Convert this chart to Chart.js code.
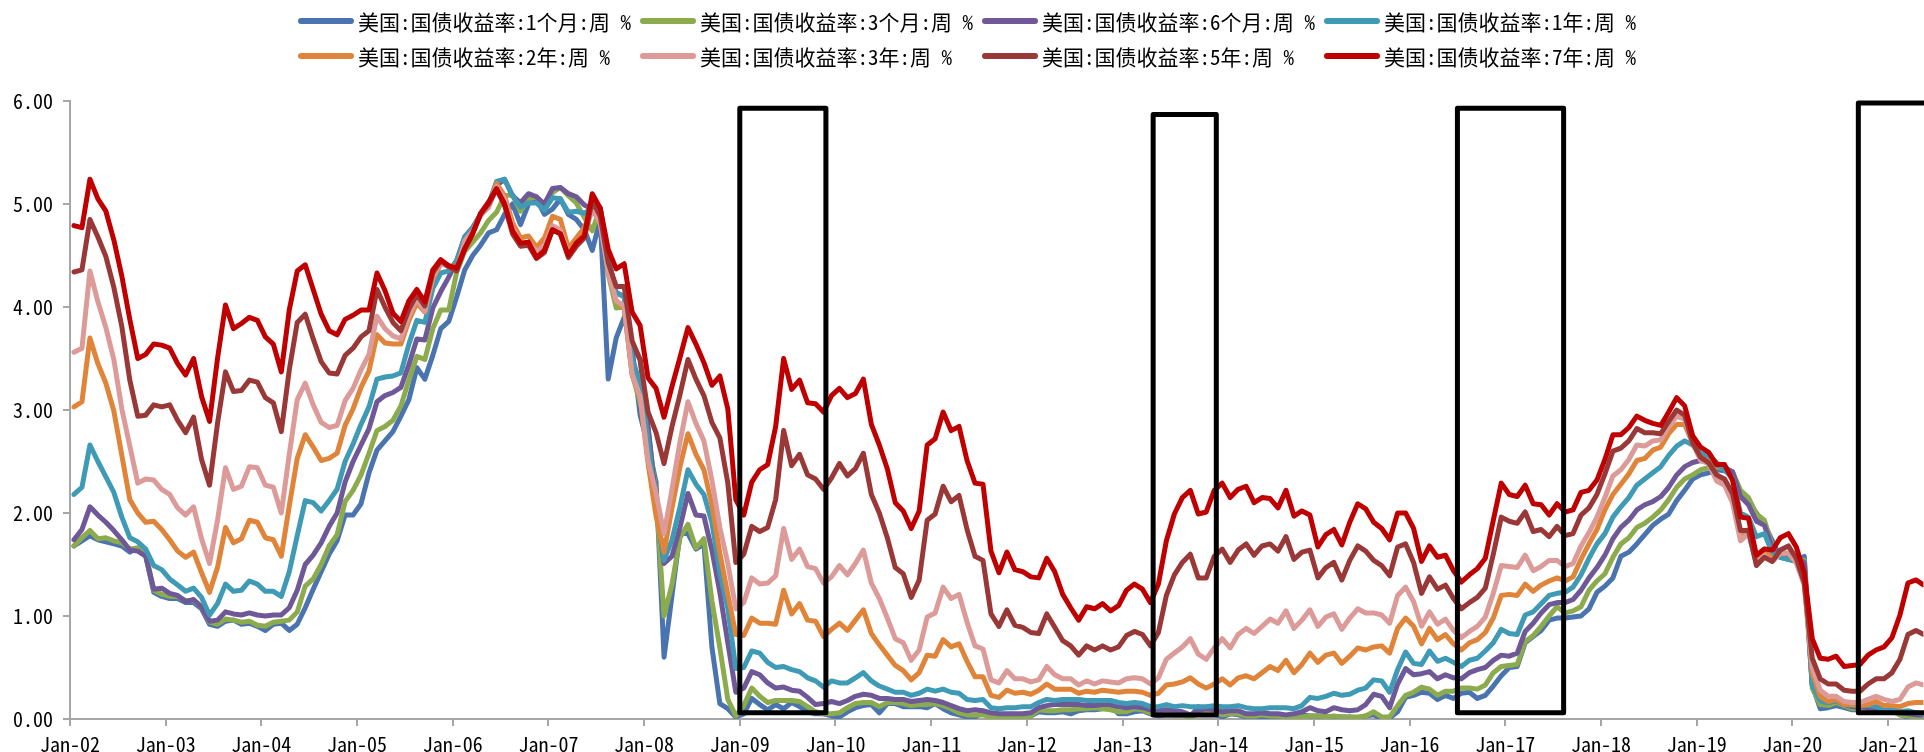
<!DOCTYPE html>
<html>
<head>
<meta charset="utf-8">
<script src="https://cdn.jsdelivr.net/npm/chart.js@4.4.1/dist/chart.umd.min.js"></script>
<style>
  html, body { margin: 0; padding: 0; background: #fff; overflow: hidden; }
  #wrap { position: relative; width: 1924px; height: 752px; }
  #chart { position: absolute; left: 0; top: 0; }
  #legend { position: absolute; left: 0; top: 0; width: 1924px; height: 80px; }
  .item { position: absolute; height: 30px; display: flex; align-items: center; white-space: nowrap;
          font-family: 'Noto Sans Mono CJK SC', 'Noto Sans CJK SC', monospace; font-size: 21px; color: #000; }
  .swatch { width: 56px; height: 6px; border-radius: 3px; margin-right: 4px; }
</style>
</head>
<body>
<div id="wrap">
  <canvas id="chart" width="1924" height="752"></canvas>
  <div id="legend"></div>
</div>
<script>
// US Treasury constant-maturity yields (%), monthly, Jan 2002 – May 2021
const startYear = 2002;
const monthCount = 233;

const seriesNames = [
  '美国:国债收益率:1个月:周 %', '美国:国债收益率:3个月:周 %', '美国:国债收益率:6个月:周 %', '美国:国债收益率:1年:周 %',
  '美国:国债收益率:2年:周 %', '美国:国债收益率:3年:周 %', '美国:国债收益率:5年:周 %', '美国:国债收益率:7年:周 %'
];
const seriesColors = ['#4a74b0', '#8bab4c', '#6f5898', '#3f9ab6', '#e0843a', '#dc9a98', '#9a3838', '#c00000'];

const y1m = [
  1.68,1.73,1.78,1.74,1.72,1.70,1.68,1.62,1.66,1.58,1.23,1.19,
  1.17,1.17,1.13,1.13,1.07,0.92,0.90,0.95,0.96,0.92,0.93,0.90,
  0.86,0.92,0.93,0.86,0.92,1.08,1.26,1.43,1.60,1.73,1.98,1.98,
  2.09,2.39,2.61,2.70,2.79,2.94,3.10,3.41,3.30,3.53,3.79,3.86,
  4.10,4.36,4.50,4.60,4.72,4.75,4.90,5.00,4.80,5.00,5.05,4.90,
  4.95,5.05,4.90,4.85,4.75,4.55,4.85,3.30,3.70,3.90,3.60,2.95,
  2.65,2.30,0.60,1.20,1.80,1.80,1.65,1.70,0.70,0.15,0.10,0.02,
  0.05,0.20,0.14,0.09,0.14,0.10,0.16,0.12,0.07,0.05,0.05,0.03,
  0.02,0.07,0.11,0.13,0.14,0.06,0.15,0.15,0.12,0.12,0.12,0.11,
  0.15,0.10,0.06,0.04,0.02,0.02,0.06,0.03,0.01,0.02,0.01,0.01,
  0.03,0.07,0.06,0.06,0.07,0.05,0.08,0.09,0.09,0.10,0.13,0.05,
  0.05,0.07,0.08,0.05,0.03,0.04,0.04,0.04,0.02,0.12,0.07,0.05,
  0.02,0.05,0.04,0.02,0.03,0.02,0.02,0.03,0.01,0.02,0.04,0.03,
  0.03,0.02,0.02,0.02,0.02,0.01,0.03,0.04,0.00,0.01,0.07,0.21,
  0.23,0.26,0.25,0.19,0.23,0.20,0.25,0.26,0.20,0.23,0.32,0.42,
  0.50,0.51,0.74,0.80,0.86,0.96,0.98,0.98,0.99,1.00,1.07,1.23,
  1.29,1.37,1.58,1.62,1.70,1.79,1.88,1.94,1.99,2.12,2.22,2.33,
  2.37,2.39,2.42,2.41,2.36,2.17,2.10,2.00,1.89,1.73,1.57,1.55,
  1.53,1.58,0.33,0.10,0.11,0.13,0.11,0.09,0.09,0.09,0.08,0.08,
  0.08,0.04,0.02,0.02,0.01
];
const y3m = [
  1.68,1.76,1.83,1.75,1.76,1.73,1.71,1.65,1.66,1.61,1.25,1.21,
  1.19,1.19,1.15,1.15,1.09,0.94,0.92,0.97,0.96,0.94,0.95,0.91,
  0.90,0.94,0.95,0.96,1.04,1.29,1.36,1.50,1.68,1.79,2.11,2.22,
  2.37,2.58,2.80,2.84,2.90,3.04,3.29,3.52,3.49,3.79,3.97,3.97,
  4.34,4.54,4.63,4.72,4.84,4.92,5.08,5.09,4.93,5.05,5.07,4.97,
  5.11,5.16,5.08,5.01,4.87,4.74,4.96,4.32,3.99,4.00,3.35,3.07,
  2.82,2.17,1.00,1.31,1.76,1.89,1.66,1.75,1.15,0.69,0.19,0.03,
  0.13,0.30,0.22,0.16,0.18,0.18,0.18,0.17,0.12,0.07,0.05,0.05,
  0.06,0.11,0.15,0.16,0.16,0.12,0.16,0.16,0.15,0.13,0.14,0.14,
  0.15,0.13,0.10,0.06,0.04,0.04,0.04,0.02,0.01,0.02,0.01,0.01,
  0.03,0.09,0.08,0.08,0.09,0.09,0.10,0.10,0.11,0.10,0.09,0.07,
  0.07,0.10,0.09,0.06,0.04,0.05,0.04,0.04,0.02,0.05,0.07,0.07,
  0.04,0.05,0.05,0.03,0.03,0.04,0.03,0.03,0.02,0.02,0.02,0.03,
  0.03,0.02,0.03,0.02,0.02,0.02,0.03,0.07,0.02,0.02,0.13,0.23,
  0.26,0.31,0.29,0.23,0.27,0.27,0.30,0.30,0.29,0.33,0.45,0.51,
  0.52,0.53,0.75,0.81,0.90,1.00,1.09,1.03,1.05,1.09,1.25,1.34,
  1.41,1.57,1.70,1.76,1.86,1.90,1.96,2.03,2.13,2.25,2.33,2.37,
  2.42,2.44,2.45,2.43,2.40,2.22,2.15,1.99,1.93,1.68,1.57,1.57,
  1.55,1.54,0.30,0.14,0.13,0.16,0.13,0.10,0.11,0.10,0.09,0.09,
  0.08,0.04,0.03,0.02,0.02
];
const y6m = [
  1.74,1.84,2.06,1.98,1.91,1.83,1.74,1.64,1.63,1.58,1.26,1.27,
  1.22,1.20,1.14,1.16,1.09,0.95,0.96,1.04,1.02,1.01,1.03,1.01,
  1.00,1.01,1.01,1.08,1.25,1.50,1.59,1.71,1.87,2.00,2.30,2.50,
  2.66,2.82,3.08,3.14,3.17,3.22,3.44,3.69,3.68,3.99,4.15,4.29,
  4.45,4.68,4.77,4.90,5.00,5.18,5.24,5.08,5.01,5.10,5.07,5.00,
  5.15,5.16,5.10,5.07,4.99,4.95,4.96,4.47,4.14,4.10,3.63,3.49,
  2.84,2.10,1.51,1.58,1.86,2.19,1.98,1.97,1.64,1.23,0.74,0.26,
  0.30,0.46,0.43,0.35,0.30,0.31,0.28,0.27,0.21,0.14,0.15,0.17,
  0.15,0.18,0.22,0.24,0.23,0.20,0.20,0.19,0.19,0.17,0.18,0.19,
  0.18,0.16,0.13,0.10,0.08,0.09,0.08,0.06,0.05,0.05,0.05,0.05,
  0.06,0.11,0.13,0.14,0.14,0.14,0.14,0.13,0.13,0.14,0.14,0.12,
  0.11,0.12,0.11,0.09,0.08,0.09,0.08,0.07,0.04,0.08,0.10,0.09,
  0.07,0.08,0.08,0.05,0.05,0.06,0.05,0.05,0.04,0.05,0.07,0.11,
  0.08,0.07,0.11,0.09,0.08,0.09,0.14,0.24,0.22,0.11,0.34,0.49,
  0.43,0.44,0.46,0.39,0.43,0.40,0.39,0.45,0.48,0.50,0.57,0.62,
  0.61,0.64,0.85,0.93,1.03,1.11,1.13,1.13,1.16,1.25,1.37,1.47,
  1.59,1.75,1.86,1.93,2.03,2.08,2.11,2.16,2.25,2.37,2.45,2.49,
  2.51,2.50,2.47,2.44,2.40,2.16,2.08,1.92,1.88,1.66,1.60,1.58,
  1.56,1.52,0.34,0.18,0.16,0.18,0.14,0.12,0.12,0.11,0.10,0.09,
  0.09,0.06,0.05,0.04,0.04
];
const y1y = [
  2.18,2.25,2.66,2.50,2.35,2.20,1.96,1.76,1.72,1.65,1.49,1.45,
  1.36,1.30,1.24,1.27,1.18,1.01,1.12,1.31,1.24,1.25,1.34,1.31,
  1.24,1.24,1.19,1.43,1.78,2.12,2.10,2.02,2.12,2.23,2.50,2.67,
  2.86,3.03,3.30,3.32,3.33,3.36,3.64,3.87,3.85,4.18,4.33,4.35,
  4.45,4.68,4.77,4.90,5.00,5.22,5.24,5.08,4.97,5.01,5.01,4.94,
  5.06,5.05,4.92,4.93,4.91,4.96,4.96,4.47,4.14,4.10,3.50,3.26,
  2.71,2.05,1.54,1.74,2.06,2.42,2.28,2.18,1.91,1.42,1.07,0.49,
  0.50,0.66,0.64,0.55,0.50,0.51,0.48,0.46,0.40,0.37,0.31,0.37,
  0.35,0.35,0.40,0.45,0.37,0.32,0.29,0.26,0.26,0.23,0.25,0.29,
  0.27,0.29,0.26,0.25,0.19,0.18,0.19,0.11,0.10,0.11,0.11,0.12,
  0.12,0.16,0.19,0.18,0.19,0.19,0.19,0.18,0.18,0.18,0.18,0.16,
  0.15,0.16,0.15,0.12,0.12,0.14,0.12,0.13,0.12,0.12,0.12,0.13,
  0.12,0.12,0.13,0.11,0.10,0.10,0.11,0.11,0.11,0.10,0.13,0.21,
  0.20,0.22,0.25,0.23,0.24,0.28,0.30,0.38,0.37,0.26,0.48,0.65,
  0.54,0.53,0.66,0.56,0.59,0.55,0.51,0.57,0.59,0.66,0.74,0.87,
  0.83,0.82,1.01,1.04,1.12,1.20,1.22,1.23,1.28,1.40,1.56,1.70,
  1.80,1.96,2.06,2.15,2.27,2.33,2.39,2.45,2.56,2.65,2.70,2.66,
  2.58,2.55,2.49,2.42,2.34,2.00,1.96,1.77,1.80,1.61,1.57,1.55,
  1.53,1.41,0.33,0.18,0.16,0.18,0.14,0.13,0.13,0.13,0.12,0.10,
  0.10,0.07,0.08,0.06,0.05
];
const y2y = [
  3.03,3.08,3.70,3.45,3.26,2.99,2.56,2.13,2.00,1.91,1.92,1.84,
  1.74,1.63,1.57,1.62,1.42,1.23,1.47,1.86,1.71,1.75,1.93,1.91,
  1.76,1.74,1.58,2.07,2.53,2.76,2.64,2.51,2.53,2.58,2.85,3.01,
  3.22,3.38,3.73,3.65,3.64,3.64,3.87,4.04,3.95,4.27,4.42,4.40,
  4.39,4.61,4.72,4.90,4.97,5.20,5.08,4.82,4.67,4.69,4.58,4.67,
  4.88,4.85,4.57,4.67,4.77,4.96,4.82,4.34,4.06,3.99,3.34,3.12,
  2.48,1.97,1.62,2.05,2.45,2.77,2.57,2.42,2.08,1.61,1.21,0.82,
  0.81,0.98,0.93,0.93,0.92,1.25,1.02,1.12,0.96,0.95,0.80,0.87,
  0.93,0.86,0.96,1.06,0.83,0.72,0.62,0.52,0.47,0.38,0.45,0.62,
  0.61,0.77,0.70,0.73,0.56,0.41,0.41,0.23,0.21,0.28,0.25,0.26,
  0.24,0.28,0.34,0.29,0.29,0.29,0.25,0.27,0.26,0.28,0.27,0.26,
  0.27,0.27,0.26,0.23,0.25,0.33,0.34,0.36,0.40,0.34,0.30,0.34,
  0.39,0.33,0.40,0.42,0.39,0.45,0.51,0.47,0.57,0.45,0.53,0.64,
  0.55,0.62,0.64,0.54,0.61,0.69,0.67,0.70,0.71,0.64,0.88,0.98,
  0.90,0.73,0.88,0.77,0.82,0.73,0.67,0.74,0.77,0.84,0.98,1.20,
  1.21,1.20,1.31,1.24,1.30,1.34,1.37,1.34,1.38,1.55,1.70,1.84,
  2.03,2.18,2.28,2.38,2.51,2.53,2.61,2.64,2.77,2.86,2.86,2.68,
  2.54,2.50,2.37,2.30,2.16,1.78,1.84,1.57,1.65,1.55,1.61,1.61,
  1.52,1.33,0.45,0.22,0.17,0.19,0.14,0.14,0.13,0.14,0.17,0.13,
  0.13,0.12,0.15,0.16,0.16
];
const y3y = [
  3.56,3.60,4.35,4.05,3.80,3.49,3.01,2.65,2.29,2.33,2.32,2.23,
  2.18,2.05,1.98,2.06,1.75,1.51,1.93,2.44,2.23,2.26,2.45,2.44,
  2.27,2.25,2.00,2.57,3.10,3.26,3.05,2.88,2.83,2.85,3.09,3.21,
  3.39,3.54,3.91,3.79,3.72,3.69,3.91,4.08,3.96,4.29,4.43,4.39,
  4.35,4.64,4.74,4.89,4.97,5.17,5.05,4.77,4.62,4.63,4.54,4.59,
  4.79,4.75,4.51,4.60,4.69,4.95,4.81,4.34,4.06,4.01,3.35,3.13,
  2.51,2.19,1.80,2.23,2.69,3.08,2.87,2.70,2.32,1.86,1.51,1.07,
  1.13,1.37,1.31,1.32,1.39,1.85,1.55,1.65,1.48,1.46,1.32,1.38,
  1.49,1.40,1.51,1.64,1.32,1.17,0.98,0.78,0.74,0.57,0.67,0.99,
  1.03,1.28,1.17,1.21,0.94,0.71,0.68,0.38,0.35,0.47,0.39,0.39,
  0.36,0.38,0.51,0.43,0.39,0.39,0.33,0.37,0.34,0.37,0.36,0.35,
  0.39,0.40,0.39,0.34,0.40,0.58,0.64,0.70,0.78,0.63,0.58,0.69,
  0.78,0.69,0.82,0.88,0.83,0.90,0.97,0.93,1.05,0.88,0.96,1.06,
  0.90,0.99,1.02,0.87,0.98,1.07,1.03,1.03,1.01,0.93,1.20,1.28,
  1.14,0.90,1.04,0.92,0.97,0.86,0.79,0.85,0.90,0.99,1.22,1.49,
  1.48,1.47,1.59,1.44,1.48,1.54,1.54,1.48,1.51,1.68,1.81,1.96,
  2.15,2.36,2.42,2.52,2.66,2.65,2.70,2.71,2.84,2.94,2.91,2.68,
  2.51,2.48,2.31,2.27,2.10,1.73,1.80,1.51,1.59,1.53,1.61,1.61,
  1.52,1.30,0.50,0.28,0.22,0.22,0.17,0.16,0.16,0.19,0.22,0.19,
  0.17,0.19,0.31,0.35,0.33
];
const y5y = [
  4.34,4.36,4.85,4.68,4.49,4.19,3.81,3.29,2.94,2.95,3.05,3.03,
  3.05,2.90,2.78,2.93,2.52,2.27,2.87,3.37,3.18,3.19,3.29,3.27,
  3.12,3.07,2.79,3.39,3.85,3.93,3.69,3.47,3.36,3.35,3.53,3.60,
  3.71,3.77,4.17,4.00,3.85,3.77,3.98,4.12,4.01,4.33,4.45,4.39,
  4.35,4.57,4.72,4.90,5.00,5.14,4.99,4.71,4.59,4.60,4.47,4.53,
  4.75,4.71,4.48,4.59,4.67,5.03,4.88,4.43,4.20,4.20,3.67,3.49,
  2.98,2.78,2.48,2.84,3.15,3.49,3.30,3.14,2.88,2.73,2.29,1.52,
  1.60,1.87,1.82,1.86,2.13,2.80,2.46,2.57,2.37,2.33,2.23,2.34,
  2.48,2.36,2.43,2.58,2.18,2.00,1.76,1.47,1.41,1.18,1.35,1.93,
  1.99,2.26,2.11,2.17,1.84,1.58,1.54,1.02,0.90,1.06,0.91,0.89,
  0.84,0.83,1.02,0.89,0.76,0.71,0.62,0.71,0.67,0.71,0.67,0.70,
  0.81,0.85,0.82,0.71,0.84,1.20,1.40,1.52,1.60,1.37,1.37,1.58,
  1.65,1.52,1.64,1.70,1.59,1.68,1.70,1.63,1.77,1.55,1.62,1.64,
  1.37,1.47,1.52,1.35,1.54,1.68,1.63,1.54,1.49,1.39,1.67,1.70,
  1.52,1.22,1.38,1.26,1.30,1.17,1.07,1.13,1.18,1.27,1.60,1.96,
  1.92,1.90,2.01,1.82,1.84,1.77,1.87,1.78,1.80,1.98,2.05,2.18,
  2.38,2.60,2.63,2.70,2.82,2.78,2.78,2.77,2.89,3.00,2.95,2.68,
  2.54,2.49,2.37,2.33,2.19,1.83,1.83,1.49,1.57,1.53,1.64,1.68,
  1.56,1.32,0.59,0.39,0.34,0.34,0.28,0.27,0.27,0.34,0.39,0.39,
  0.45,0.58,0.82,0.86,0.82
];
const y7y = [
  4.79,4.77,5.24,5.05,4.93,4.65,4.30,3.88,3.50,3.54,3.64,3.63,
  3.60,3.45,3.34,3.50,3.13,2.89,3.50,4.02,3.79,3.84,3.90,3.87,
  3.71,3.64,3.37,3.97,4.35,4.41,4.17,3.93,3.77,3.73,3.88,3.92,
  3.97,3.97,4.33,4.16,3.94,3.86,4.06,4.17,4.05,4.36,4.46,4.40,
  4.38,4.56,4.71,4.91,5.02,5.15,5.00,4.74,4.62,4.63,4.48,4.55,
  4.75,4.71,4.50,4.62,4.69,5.10,4.96,4.56,4.37,4.42,3.95,3.82,
  3.31,3.21,2.93,3.23,3.51,3.80,3.64,3.46,3.24,3.33,3.01,2.13,
  1.98,2.30,2.42,2.47,2.84,3.50,3.20,3.29,3.07,3.06,2.98,3.14,
  3.21,3.12,3.16,3.30,2.86,2.66,2.43,2.10,2.02,1.85,2.02,2.66,
  2.72,2.98,2.80,2.84,2.51,2.29,2.28,1.63,1.42,1.62,1.45,1.43,
  1.38,1.37,1.56,1.43,1.21,1.08,0.96,1.09,1.07,1.12,1.05,1.10,
  1.25,1.31,1.26,1.13,1.31,1.73,1.99,2.15,2.22,1.99,2.01,2.22,
  2.29,2.15,2.23,2.26,2.10,2.15,2.14,2.05,2.22,1.97,2.02,1.98,
  1.67,1.79,1.84,1.69,1.91,2.09,2.04,1.91,1.85,1.74,2.00,2.00,
  1.85,1.53,1.68,1.57,1.59,1.44,1.33,1.40,1.46,1.56,1.93,2.29,
  2.18,2.16,2.27,2.09,2.08,1.98,2.09,2.01,2.03,2.20,2.22,2.32,
  2.52,2.76,2.76,2.83,2.94,2.90,2.87,2.85,2.98,3.12,3.04,2.75,
  2.64,2.59,2.47,2.47,2.32,1.96,1.95,1.59,1.65,1.64,1.76,1.80,
  1.67,1.42,0.78,0.59,0.58,0.61,0.51,0.52,0.53,0.62,0.67,0.70,
  0.79,1.01,1.32,1.35,1.30
];

const tickYears = [2002,2003,2004,2005,2006,2007,2008,2009,2010,2011,2012,2013,2014,2015,2016,2017,2018,2019,2020,2021];
const tickLabels = ['Jan-02','Jan-03','Jan-04','Jan-05','Jan-06','Jan-07','Jan-08','Jan-09','Jan-10','Jan-11',
                    'Jan-12','Jan-13','Jan-14','Jan-15','Jan-16','Jan-17','Jan-18','Jan-19','Jan-20','Jan-21'];
const yTicks = [0, 1, 2, 3, 4, 5, 6];

// highlighted periods (in axis units: fractional year / yield %)
const boxFrom   = [2009.00, 2013.32, 2016.50, 2020.69];
const boxTo     = [2009.90, 2013.98, 2017.61, 2021.60];
const boxTop    = [5.93, 5.87, 5.93, 5.98];
const boxBottom = [0.06, 0.04, 0.06, 0.06];

const allSeries = [y1m, y3m, y6m, y1y, y2y, y3y, y5y, y7y];

// month positions on the year axis (mid-month)
const monthX = [];
for (let i = 0; i < monthCount; i++) monthX.push(startYear + (i + 0.5) / 12);

const tickFont = { family: "'Noto Sans Mono CJK SC', 'Noto Sans CJK SC', monospace", size: 20 };
const axisGray = '#a6a6a6';

const datasets = allSeries.map((vals, i) => ({
  label: seriesNames[i],
  data: vals.map((v, k) => ({ x: monthX[k], y: v })),
  borderColor: seriesColors[i],
  backgroundColor: seriesColors[i],
  borderWidth: 5,
  pointRadius: 0,
  tension: 0,
  fill: false,
  borderJoinStyle: 'round',
  borderCapStyle: 'round',
  order: allSeries.length - i
}));

const boxPlugin = {
  id: 'periodBoxes',
  afterDatasetsDraw(chart) {
    const { ctx, scales: { x, y } } = chart;
    ctx.save();
    ctx.strokeStyle = '#000';
    ctx.lineWidth = 5;
    ctx.lineJoin = 'round';
    for (let i = 0; i < boxFrom.length; i++) {
      const x0 = x.getPixelForValue(boxFrom[i]);
      const x1 = x.getPixelForValue(boxTo[i]);
      const y0 = y.getPixelForValue(boxTop[i]);
      const y1 = y.getPixelForValue(boxBottom[i]);
      ctx.strokeRect(x0, y0, x1 - x0, y1 - y0);
    }
    ctx.restore();
  }
};

const chart = new Chart(document.getElementById('chart'), {
  type: 'line',
  data: { datasets },
  plugins: [boxPlugin],
  options: {
    responsive: false,
    animation: false,
    events: [],
    layout: { padding: { top: 101, right: 0, left: 0, bottom: 0 } },
    plugins: { legend: { display: false }, tooltip: { enabled: false } },
    scales: {
      x: {
        type: 'linear',
        min: 2002,
        max: 2021.37,
        afterBuildTicks: s => { s.ticks = tickYears.map(v => ({ value: v })); },
        afterFit: s => { s.height = 33; },
        ticks: { callback: (v, i) => tickLabels[i], autoSkip: false, maxRotation: 0, padding: 6,
                 font: tickFont, color: '#000', includeBounds: false },
        grid: { drawOnChartArea: false, drawTicks: true, tickLength: 7, color: axisGray, lineWidth: 2 },
        border: { color: axisGray, width: 2 }
      },
      y: {
        min: 0,
        max: 6,
        afterBuildTicks: s => { s.ticks = yTicks.map(v => ({ value: v })); },
        afterFit: s => { s.width = 70; },
        ticks: { callback: v => v.toFixed(2), padding: 10, font: tickFont, color: '#000' },
        grid: { drawOnChartArea: false, drawTicks: true, tickLength: 7, color: axisGray, lineWidth: 2 },
        border: { color: axisGray, width: 2 }
      }
    }
  }
});

// two-row legend laid out on a fixed column grid
const legend = document.getElementById('legend');
const legendLeft = 298, legendColW = 342, legendRowY = [21, 56];
seriesNames.forEach((name, i) => {
  const item = document.createElement('div');
  item.className = 'item';
  item.style.left = (legendLeft + (i % 4) * legendColW) + 'px';
  item.style.top = (legendRowY[Math.floor(i / 4)] - 15) + 'px';
  const sw = document.createElement('span');
  sw.className = 'swatch';
  sw.style.background = seriesColors[i];
  const tx = document.createElement('span');
  tx.textContent = name;
  item.appendChild(sw);
  item.appendChild(tx);
  legend.appendChild(item);
});
</script>
</body>
</html>
